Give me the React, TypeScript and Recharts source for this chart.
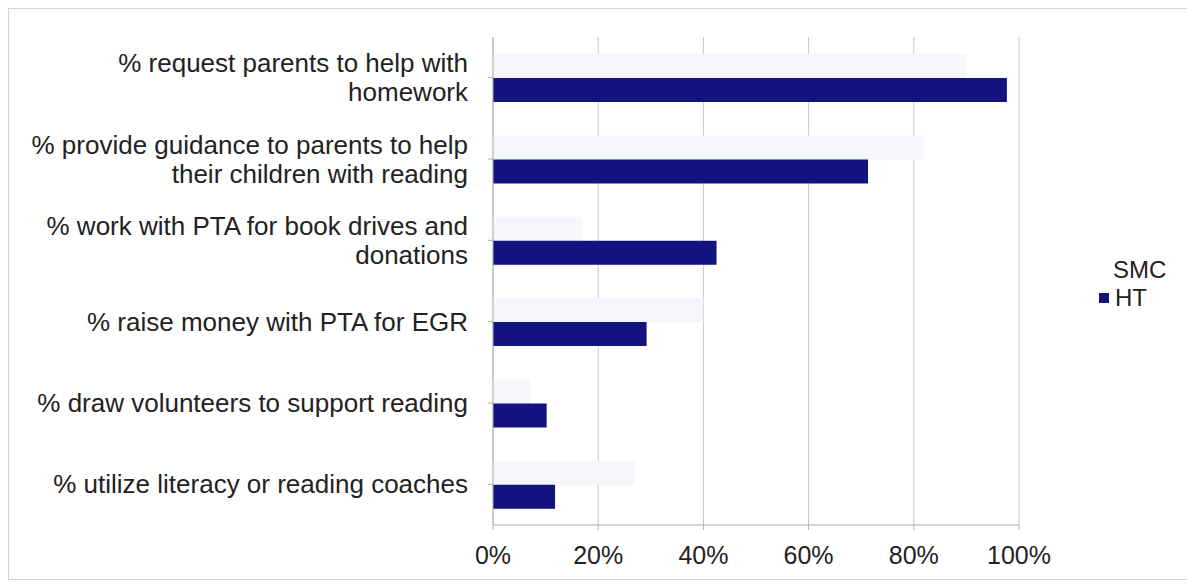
import { BarChart, Bar, XAxis, YAxis, CartesianGrid } from "recharts";

const categories = [
  "% request parents to help with\nhomework",
  "% provide guidance to parents to help\ntheir children with reading",
  "% work with PTA for book drives and\ndonations",
  "% raise money with PTA for EGR",
  "% draw volunteers to support reading",
  "% utilize literacy or reading coaches",
];
const smcValues = [90, 82, 17, 40, 7, 27];
const htValues = [97.7, 71.3, 42.5, 29.2, 10.2, 11.8];
const xTicks = [0, 20, 40, 60, 80, 100];

const data = categories.map((name, i) => ({ name, SMC: smcValues[i], HT: htValues[i] }));

const FONT = "'Liberation Sans', Arial, sans-serif";
const HT_COLOR = "#13137f";
const SMC_COLOR = "#f5f6f9";

function CategoryTick({ x, y, payload }: any) {
  const lines = String(payload.value).split("\n");
  const lh = 29;
  const start = y - ((lines.length - 1) * lh) / 2;
  return (
    <text x={x - 18} y={start} textAnchor="end" fontSize={26} fill="#222" fontFamily={FONT}>
      {lines.map((l, i) => (
        <tspan key={i} x={x - 18} y={start + i * lh} dy="0.35em">{l}</tspan>
      ))}
    </text>
  );
}

// legend drawn outside the chart so it doesn't eat into the plot area
function LegendBox() {
  return (
    <div style={{ position: "absolute", left: 1088, top: 247, fontFamily: FONT, fontSize: 24, color: "#222", lineHeight: "28px" }}>
      <div style={{ paddingLeft: 16 }}>SMC</div>
      <div style={{ display: "flex", alignItems: "center" }}>
        <span style={{ width: 10, height: 10, background: HT_COLOR, display: "inline-block", marginLeft: 2, marginRight: 6 }} />
        HT
      </div>
    </div>
  );
}

export default function App() {
  return (
    <div style={{ position: "relative", width: 1180, height: 570, border: "1px solid #d4d4d4", background: "#fff" }}>
      <BarChart
        width={1180}
        height={570}
        data={data}
        layout="vertical"
        margin={{ top: 28, right: 170, bottom: 24, left: 0 }}
        barCategoryGap="21%"
        barGap={0}
      >
        <CartesianGrid horizontal={false} stroke="#c8c8c8" />
        <XAxis
          type="number"
          domain={[0, 100]}
          ticks={xTicks}
          tickFormatter={(v) => `${v}%`}
          axisLine={{ stroke: "#b0b0b0" }}
          tickLine={{ stroke: "#b0b0b0" }}
          tickSize={5}
          tickMargin={16}
          height={30}
          tick={{ fontSize: 25, fill: "#222", fontFamily: FONT }}
        />
        <YAxis
          type="category"
          dataKey="name"
          width={484}
          axisLine={{ stroke: "#b0b0b0" }}
          tickLine={{ stroke: "#b0b0b0" }}
          tickSize={5}
          tick={<CategoryTick />}
          interval={0}
        />
        <Bar dataKey="SMC" fill={SMC_COLOR} isAnimationActive={false} />
        <Bar dataKey="HT" fill={HT_COLOR} isAnimationActive={false} />
      </BarChart>
      <LegendBox />
    </div>
  );
}
